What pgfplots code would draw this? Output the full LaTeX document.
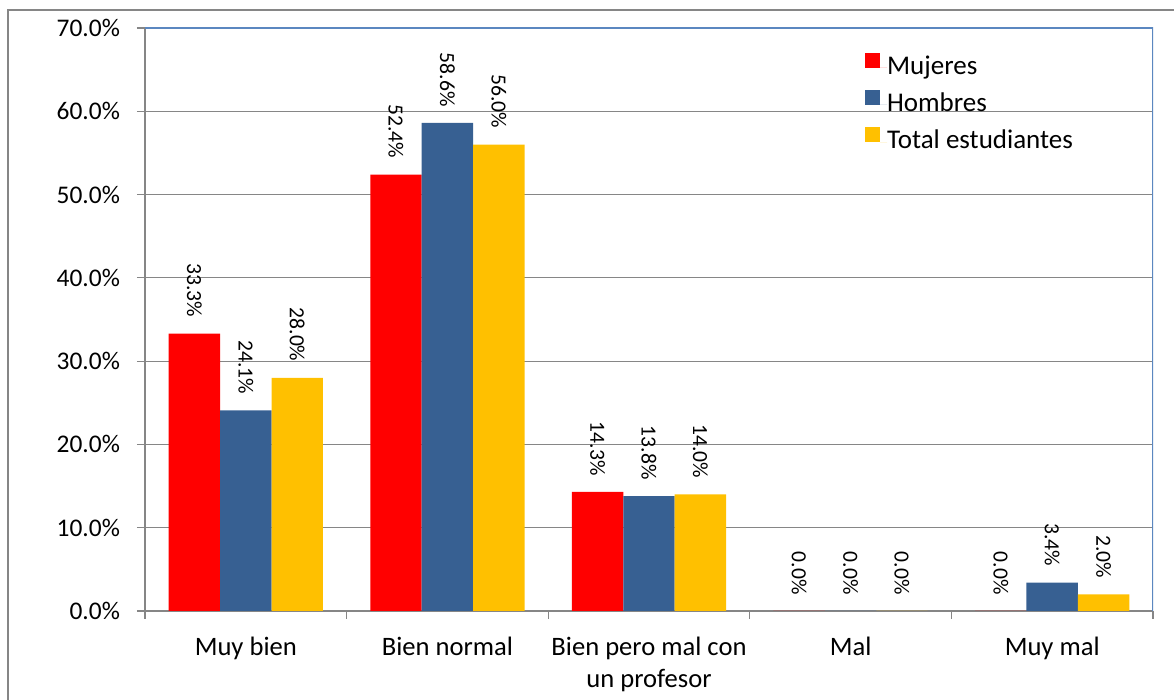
\documentclass[border=0pt]{standalone}
\usepackage{pgfplots}
\pgfplotsset{compat=1.18}
\usepackage{fontspec}
\setmainfont{Carlito}
\definecolor{mred}{HTML}{FF0000}
\definecolor{mblue}{HTML}{376092}
\definecolor{mgold}{HTML}{FFC000}
\definecolor{axgray}{HTML}{868686}
\definecolor{edgeblue}{HTML}{5B87C0}
\begin{document}
\begin{tikzpicture}
\useasboundingbox (-72.5pt,-44.5pt) rectangle (514.5pt,305.5pt);
\draw[axgray, line width=0.75pt] (-68.5pt,-45pt) -- (-68.5pt,300.5pt) -- (515pt,300.5pt);
\begin{axis}[
    at={(0pt,0pt)}, anchor=south west,
    scale only axis,
    width=504pt, height=291.5pt,
    ybar=0pt,
    bar width=0.255,
    xmin=-0.5, xmax=4.5,
    ymin=0, ymax=70,
    axis x line*=bottom,
    axis y line*=left,
    axis line style={axgray, line width=0.6pt, -},
    ymajorgrids,
    grid style={axgray, line width=0.5pt},
    tick align=outside,
    major tick length=4pt,
    tick style={axgray, line width=0.6pt},
    ytick={0,10,...,70},
    yticklabels={0.0\%,10.0\%,20.0\%,30.0\%,40.0\%,50.0\%,60.0\%,70.0\%},
    yticklabel style={font=\fontsize{12.7}{15}\selectfont, xshift=-5pt},
    xtick={-0.5,0.5,...,4.5},
    xticklabels={},
    extra x ticks={0,1,2,3,4},
    extra x tick labels={Muy bien,Bien normal,{Bien pero mal con\\un profesor},Mal,Muy mal},
    extra x tick style={major tick length=0pt, grid=none,
        xticklabel style={font=\fontsize{13.3}{16}\selectfont, align=center, anchor=north, yshift=-9.5pt}},
    /pgf/number format/assume math mode=true,
    nodes near coords={\pgfmathprintnumber[fixed,fixed zerofill,precision=1]{\pgfplotspointmeta}\%},
    every node near coord/.append style={rotate=-90, anchor=east, inner xsep=8pt, inner ysep=0pt,
        font=\fontsize{10.8}{12}\selectfont, text=black},
    legend style={at={(0.714,0.958)}, anchor=north west, draw=none, fill=none,
        font=\fontsize{13.5}{15}\selectfont, row sep=4.8pt, inner sep=0pt,
        nodes={inner sep=0pt, text height=9.5pt, text depth=3pt}},
    legend cell align=left,
    legend image code/.code={\fill[#1] (0pt,0pt) rectangle (7.5pt,7.5pt); \path (7.5pt,0pt) -- (11pt,0pt);},
]
\addplot[fill=mred, draw=none] coordinates {(0,33.3) (1,52.4) (2,14.3) (3,0) (4,0)};
\addplot[fill=mblue, draw=none] coordinates {(0,24.1) (1,58.6) (2,13.8) (3,0) (4,3.4)};
\addplot[fill=mgold, draw=none] coordinates {(0,28.0) (1,56.0) (2,14.0) (3,0) (4,2.0)};
\legend{Mujeres,Hombres,Total estudiantes}
\draw[edgeblue, line width=0.7pt] (rel axis cs:0,1) -- (rel axis cs:1,1) -- (rel axis cs:1,0);
\end{axis}
\end{tikzpicture}
\end{document}
